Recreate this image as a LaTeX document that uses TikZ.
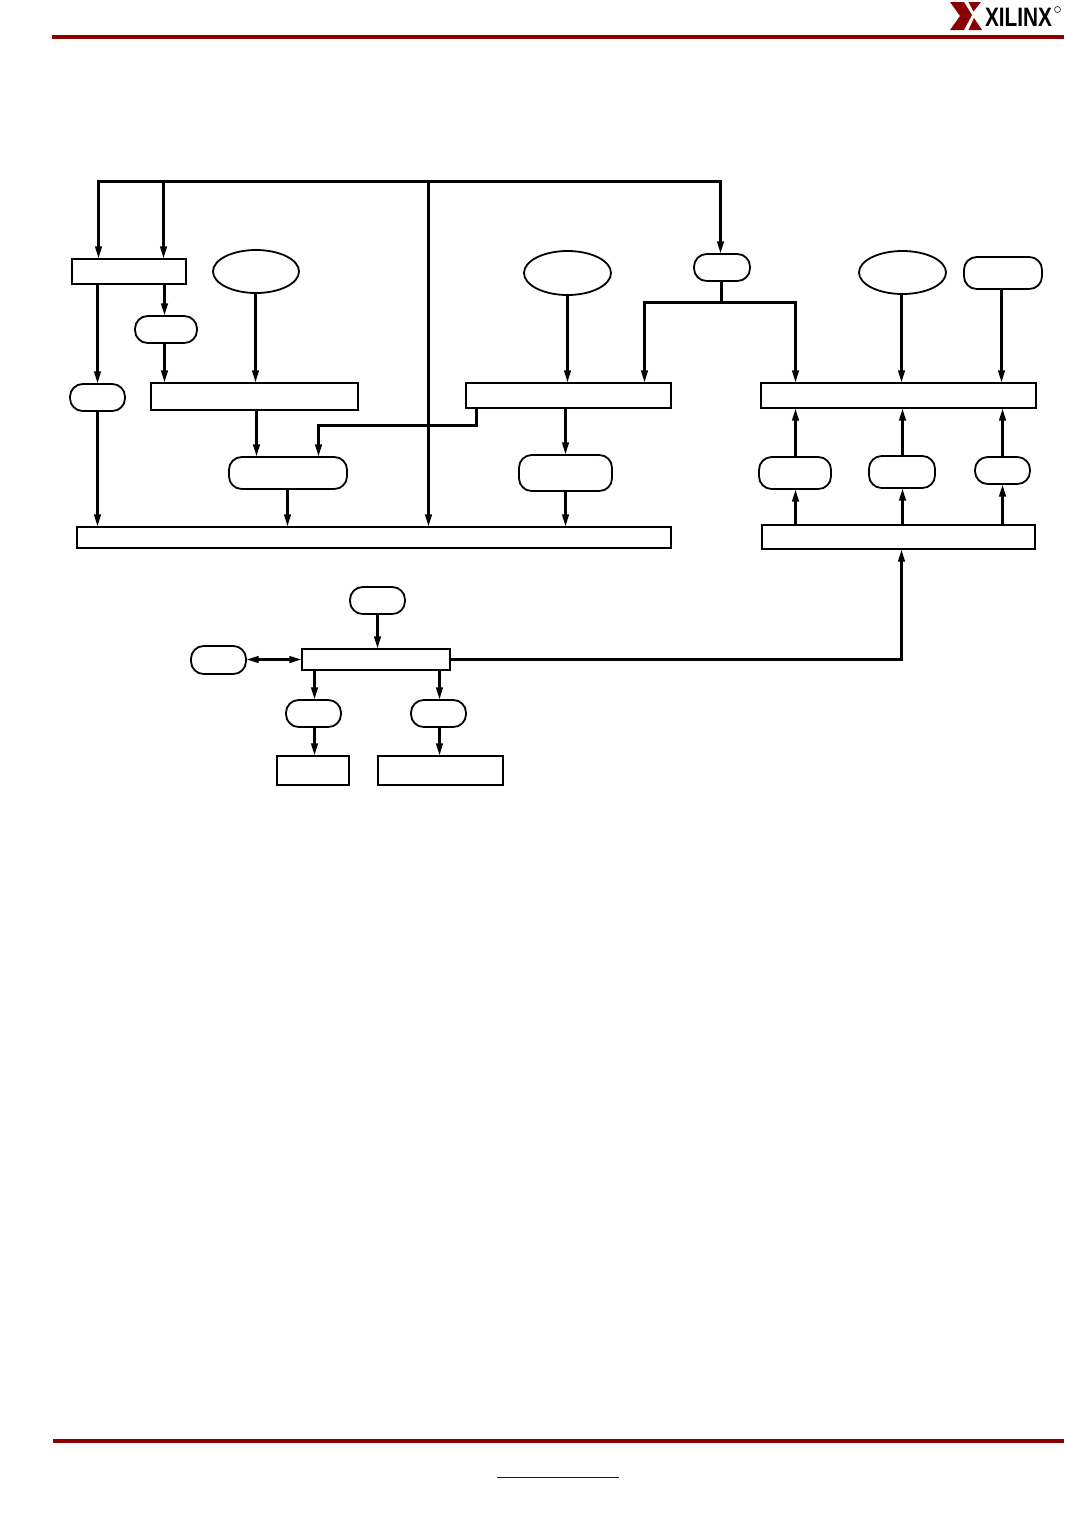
\documentclass[tikz,border=0pt]{standalone}
\usepackage{fontspec}
\setmainfont{Liberation Sans}
\usetikzlibrary{arrows.meta,shapes.geometric,shapes.misc}
\definecolor{xred}{HTML}{8B0000}
\tikzset{
  rectbox/.style={draw=black,line width=1.5pt,rectangle,inner sep=0pt,outer sep=0pt,fill=white},
  pillbox/.style={draw=black,line width=1.35pt,rectangle,rounded corners=9.5pt,inner sep=0pt,outer sep=0pt,fill=white},
  ellbox/.style={draw=black,line width=1.35pt,ellipse,inner sep=0pt,outer sep=0pt,fill=white},
  wire/.style={draw=black,line width=2.1pt,line cap=butt,line join=miter},
  arr/.style={wire,-{Triangle[length=9.5pt,width=4.8pt]}},
  arrtwo/.style={wire,{Triangle[length=9.5pt,width=4.8pt]}-{Triangle[length=9.5pt,width=4.8pt]}},
  rule/.style={draw=xred,line width=2.8pt}
}
\newcommand{\bx}[6]{%
  \pgfmathsetmacro{\cxx}{(#3+#5)/2}\pgfmathsetmacro{\cyy}{(#4+#6)/2}%
  \pgfmathsetmacro{\wdd}{(#5-#3)*0.75}\pgfmathsetmacro{\htt}{(#6-#4)*0.75}%
  \node[#2,minimum width=\wdd pt,minimum height=\htt pt] (#1) at (\cxx,\cyy) {};}
\begin{document}
\begin{tikzpicture}[x=0.75pt,y=-0.75pt]
\useasboundingbox (0,0) rectangle (1064,1517);
\fill[white] (0,0) rectangle (1064,1517);
% header / footer
\coordinate (hl) at (52,37); \coordinate (hr) at (1064,37);
\coordinate (fl) at (53,1441); \coordinate (fr) at (1064,1441);
\draw[rule] (hl) -- (hr);
\draw[rule] (fl) -- (fr);
\coordinate (ul) at (497,1477); \coordinate (ur) at (619,1477);
\draw[blue!85!black,line width=0.75pt] (ul) -- (ur);
% logo
\fill[xred] (950,2) -- (964,2) -- (972,15) -- (964,30) -- (950,30) -- (960,16) -- cycle;
\fill[xred] (968.5,2) -- (981,2) -- (973.5,11.5) -- cycle;
\fill[xred] (974,18) -- (982,30) -- (968.5,30) -- cycle;
\node[inner sep=0pt,outer sep=0pt,xscale=0.78,transform shape,font=\fontsize{20pt}{20pt}\selectfont\bfseries,anchor=base west] (logotext) at (985,26) {XILINX};
\node[circle,draw=black!80,line width=0.5pt,minimum size=4.5pt,inner sep=0pt] (logoreg) at (1057.5,9.5) {};
% boxes
\bx{ra}{rectbox}{72}{259}{186}{284}
\bx{rb}{rectbox}{151}{383}{358}{410}
\bx{rc}{rectbox}{466}{383}{671}{408}
\bx{rd}{rectbox}{761}{383}{1036}{408}
\bx{re}{rectbox}{77}{527}{671}{548}
\bx{rf}{rectbox}{762}{525}{1035}{549}
\bx{rg}{rectbox}{302}{649}{450}{670}
\bx{rh}{rectbox}{277}{756}{349}{785}
\bx{ri}{rectbox}{378}{756}{503}{785}
\bx{ea}{ellbox}{213}{250}{299}{293}
\bx{eb}{ellbox}{524}{251}{611}{295}
\bx{ec}{ellbox}{859}{251}{946}{294}
\bx{pa}{pillbox}{135}{316}{197}{343}
\bx{pb}{pillbox}{70}{384}{125}{411}
\bx{pc}{pillbox}{694}{254}{750}{281}
\bx{pd}{pillbox}{964}{257}{1042}{289}
\bx{pe}{pillbox}{229}{457}{347}{489}
\bx{pf}{pillbox}{519}{455}{612}{491}
\bx{pg}{pillbox}{759}{457}{831}{489}
\bx{ph}{pillbox}{869}{456}{935}{488}
\bx{pi}{pillbox}{975}{457}{1030}{484}
\bx{pj}{pillbox}{350}{587}{405}{614}
\bx{pk}{pillbox}{191}{646}{246}{674}
\bx{pl}{pillbox}{286}{700}{341}{727}
\bx{pm}{pillbox}{411}{700}{466}{727}
% top bus
\coordinate (busl) at (98.5,181.5); \coordinate (busa) at (163.5,181.5);
\coordinate (busb) at (428.5,181.5); \coordinate (busr) at (720.5,181.5);
\draw[arr] (busr) -- (busl) -- (ra.north -| busl);
\draw[arr] (busl) -- (busr) -- (pc.north -| busr);
\draw[arr] (busa) -- (ra.north -| busa);
\draw[arr] (busb) -- (re.north -| busb);
% left group
\draw[arr] (ra.south -| 97.5,0) -- (pb.north -| 97.5,0);
\draw[arr] (ra.south -| 164.5,0) -- (pa.north -| 164.5,0);
\draw[arr] (pa.south -| 164.5,0) -- (rb.north -| 164.5,0);
\draw[arr] (ea.south -| 255.5,0) -- (rb.north -| 255.5,0);
\draw[arr] (pb.south -| 97.5,0) -- (re.north -| 97.5,0);
\draw[arr] (rb.south -| 256.5,0) -- (pe.north -| 256.5,0);
\draw[arr] (pe.south -| 287.5,0) -- (re.north -| 287.5,0);
\coordinate (jog) at (476.5,425.5); \coordinate (jogb) at (318.5,425.5);
\draw[arr] (rc.south -| jog) -- (jog) -- (jogb) -- (pe.north -| jogb);
% middle group
\draw[arr] (eb.south -| 567.5,0) -- (rc.north -| 567.5,0);
\draw[arr] (rc.south -| 565.5,0) -- (pf.north -| 565.5,0);
\draw[arr] (pf.south -| 565.5,0) -- (re.north -| 565.5,0);
% branch
\coordinate (bj) at (721.5,302.5); \coordinate (bl) at (644.5,302.5); \coordinate (br) at (795.5,302.5);
\draw[wire] (pc.south -| bj) -- (bj);
\draw[arr] (bj) -- (bl) -- (rc.north -| bl);
\draw[arr] (bj) -- (br) -- (rd.north -| br);
% right group
\draw[arr] (ec.south -| 901.5,0) -- (rd.north -| 901.5,0);
\draw[arr] (pd.south -| 1001.5,0) -- (rd.north -| 1001.5,0);
\draw[arr] (rf.north -| 795.5,0) -- (pg.south -| 795.5,0);
\draw[arr] (pg.north -| 795.5,0) -- (rd.south -| 795.5,0);
\draw[arr] (rf.north -| 902.5,0) -- (ph.south -| 902.5,0);
\draw[arr] (ph.north -| 902.5,0) -- (rd.south -| 902.5,0);
\draw[arr] (rf.north -| 1002.5,0) -- (pi.south -| 1002.5,0);
\draw[arr] (pi.north -| 1002.5,0) -- (rd.south -| 1002.5,0);
% lower group
\coordinate (lk) at (901.5,659.5);
\draw[arr] (rg.east |- lk) -- (lk) -- (rf.south -| lk);
\draw[arr] (pj.south -| 377.5,0) -- (rg.north -| 377.5,0);
\draw[arrtwo] (pk.east |- lk) -- (rg.west |- lk);
\draw[arr] (rg.south -| 314.5,0) -- (pl.north -| 314.5,0);
\draw[arr] (pl.south -| 314.5,0) -- (rh.north -| 314.5,0);
\draw[arr] (rg.south -| 439.5,0) -- (pm.north -| 439.5,0);
\draw[arr] (pm.south -| 439.5,0) -- (ri.north -| 439.5,0);
\end{tikzpicture}
\end{document}
